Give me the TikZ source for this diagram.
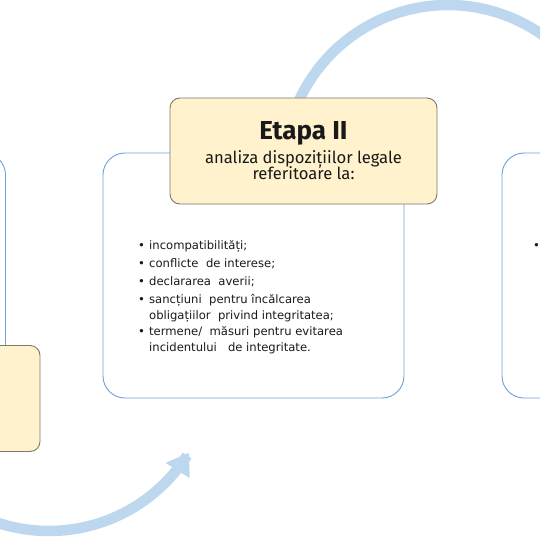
\documentclass[tikz,border=0pt]{standalone}
\usepackage{fontspec}
\usetikzlibrary{arrows.meta}
\newfontfamily\headfont{Fira Sans}
\newfontfamily\listfont{DejaVu Sans}
\definecolor{arcblue}{RGB}{189,215,238}
\definecolor{boxblue}{RGB}{108,162,220}
\definecolor{beigefill}{RGB}{255,242,204}
\definecolor{beigeline}{RGB}{127,120,105}
\definecolor{textdark}{RGB}{25,25,25}
\tikzset{
  whitebox/.style={draw=boxblue, line width=0.9pt, fill=white, rounded corners=22pt,
    minimum width=301pt, minimum height=245pt, inner sep=0pt},
  beigebox/.style={draw=beigeline, line width=0.9pt, fill=beigefill, rounded corners=10pt,
    minimum width=267pt, minimum height=106pt, inner sep=0pt},
  flowarc/.style={draw=arcblue, line width=10.5pt},
  titletext/.style={anchor=base, inner sep=0pt, text=textdark, font={\headfont\fontsize{26}{26}\selectfont\bfseries}},
  subtext/.style={anchor=base, inner sep=0pt, text=textdark, font={\headfont\fontsize{16.6}{17}\selectfont}},
  listline/.style={anchor=base west, inner sep=0pt, text=textdark, font={\listfont\fontsize{11.6}{14}\selectfont}},
}
\newcommand{\bul}{\makebox[11pt][l]{•}}
\begin{document}
\begin{tikzpicture}[x=1pt,y=-1pt]
\useasboundingbox (0,0) rectangle (540,540);
\clip (0,0) rectangle (540,540);
\fill[white] (0,0) rectangle (540,540);
% arcs
\draw[flowarc] plot[domain=198:335, samples=80] ({448+164*cos(\x)},{169+164*sin(\x)});
\draw[flowarc, -{Triangle[length=21pt,width=27pt]}] plot[domain=125:31.5, samples=80] ({49+164*cos(\x)},{367+164*sin(\x)});
% white boxes
\node[whitebox] (box1) at (-145,275.5) {};
\node[whitebox] (box2) at (253.5,275.5) {};
\node[whitebox] (box3) at (652.5,275.5) {};
% beige boxes
\node[beigebox] (head1) at (-93.5,398.5) {};
\node[beigebox] (head2) at (303.5,151) {};
\node[titletext] (title2) at (303.5,140) {Etapa II};
\node[subtext] (sub2a) at (303.5,163.5) {analiza dispozițiilor legale};
\node[subtext] (sub2b) at (303.5,179) {referitoare la:};
% list
\node[listline] (l1) at (138,249) {\bul incompatibilități;};
\node[listline] (l2) at (138,267) {\bul conflicte\ \ de interese;};
\node[listline] (l3) at (138,285) {\bul declararea\ \ averii;};
\node[listline] (l4) at (138,303) {\bul sancțiuni\ \ pentru încălcarea};
\node[listline] (l5) at (138,319) {\hspace*{11pt}obligațiilor\ \ privind integritatea;};
\node[listline] (l6) at (138,335) {\bul termene/\ \ măsuri pentru evitarea};
\node[listline] (l7) at (138,351) {\hspace*{11pt}incidentului\ \ \ de integritate.};
\node[listline] (bul3) at (533,249) {•};
\end{tikzpicture}
\end{document}
